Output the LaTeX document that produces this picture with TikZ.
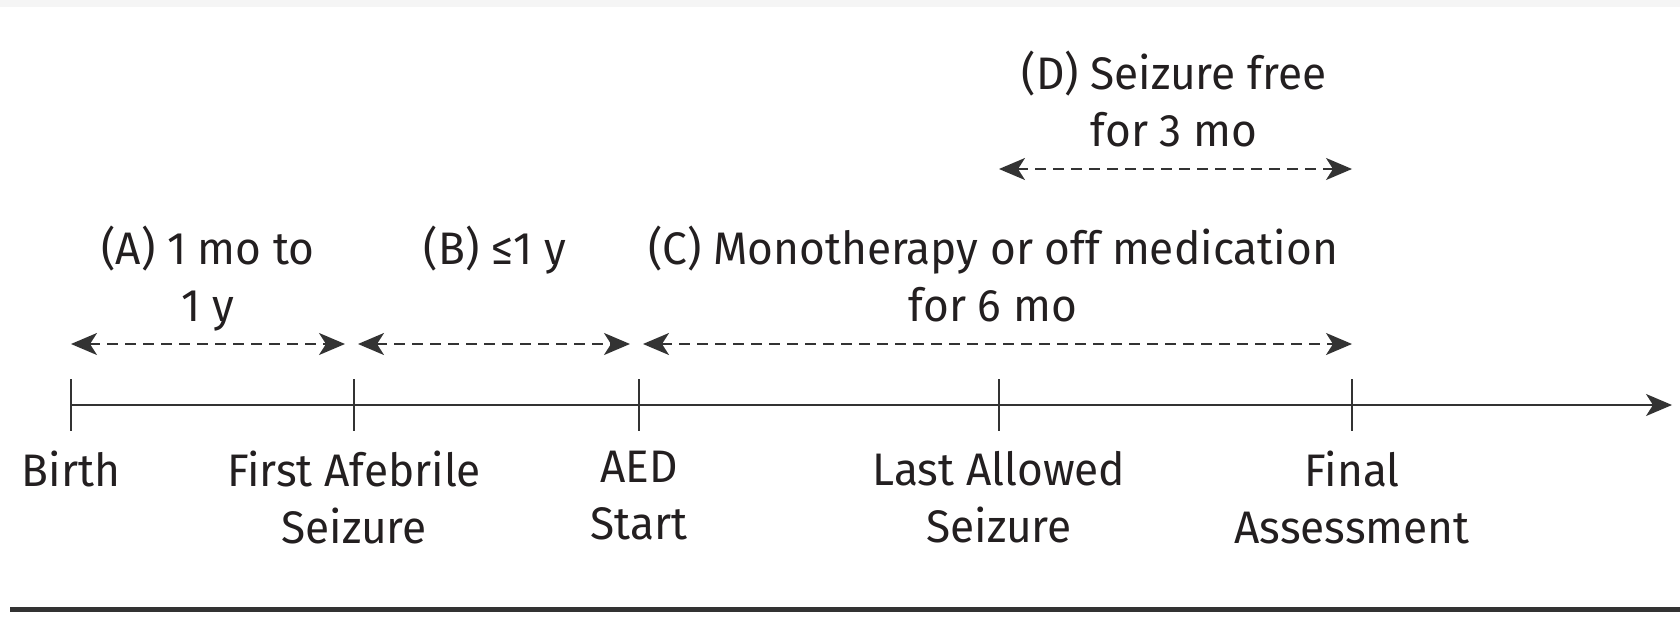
\documentclass[tikz,border=0pt]{standalone}
\usepackage{fontspec}
\setmainfont[FakeStretch=0.97]{Fira Sans}
\usetikzlibrary{arrows.meta}
\definecolor{tinta}{HTML}{231F20}
\definecolor{linea}{HTML}{333333}
\begin{document}
\begin{tikzpicture}[x=0.5pt, y=-0.5pt,
        font=\fontsize{22.8pt}{28.5pt}\selectfont, text=tinta,
        punta/.tip={Stealth[length=13pt, width=11pt, inset=3.5pt]},
        intervalo/.style={linea, line width=1pt, dash pattern=on 5.5pt off 3.5pt, punta-punta},
        evento/.style={anchor=north, inner sep=0pt, align=center},
        titulo/.style={anchor=north, inner sep=0pt, align=center}]
        \useasboundingbox (0,0) rectangle (1680,621);

        % Franja superior y linea inferior
        \fill[black!4] (0,0) rectangle (1680,7);
        \draw[linea, line width=2.5pt] (10,609) -- (1680,609);

        % Eje del tiempo
        \coordinate (inicio) at (71,405);
        \coordinate (fin) at (1672,405);
        \draw[linea, line width=0.9pt, -punta] (inicio) -- (fin);
        \foreach \nombre/\x in {nac/71, crisis/354, fae/639, ultima/999, final/1352} {
            \coordinate (\nombre) at (\x,405);
            \coordinate (\nombre-bajo) at (\x,344);
            \coordinate (\nombre-alto) at (\x,169);
            \draw[linea, line width=0.9pt] (\x,379) -- (\x,431);
        }

        % Eventos
        \node[evento] (lnac) at ([yshift=-23pt]nac) {Birth};
        \node[evento] (lcrisis) at ([yshift=-23pt]crisis) {First Afebrile\\Seizure};
        \node[evento] (lfae) at ([yshift=-23pt]fae) {AED\\Start};
        \node[evento] (lultima) at ([yshift=-23pt]ultima) {Last Allowed\\Seizure};
        \node[evento] (lfinal) at ([yshift=-23pt]final) {Final\\Assessment};

        % Intervalos
        \draw[intervalo] (nac-bajo) -- ([xshift=-4.5pt]crisis-bajo);
        \draw[intervalo] ([xshift=2pt]crisis-bajo) -- ([xshift=-4.5pt]fae-bajo);
        \draw[intervalo] ([xshift=2pt]fae-bajo) -- (final-bajo);
        \draw[intervalo] (ultima-alto) -- (final-alto);

        % Rotulos
        \node[titulo] (tA) at (208,226) {(A) 1 mo to\\1 y};
        \node[titulo] (tB) at (495,226) {(B) ≤1 y};
        \node[titulo] (tC) at (993,226) {(C) Monotherapy or off medication\\for 6 mo};
        \node[titulo] (tD) at (1174,51) {(D) Seizure free\\for 3 mo};
    \end{tikzpicture}
\end{document}
